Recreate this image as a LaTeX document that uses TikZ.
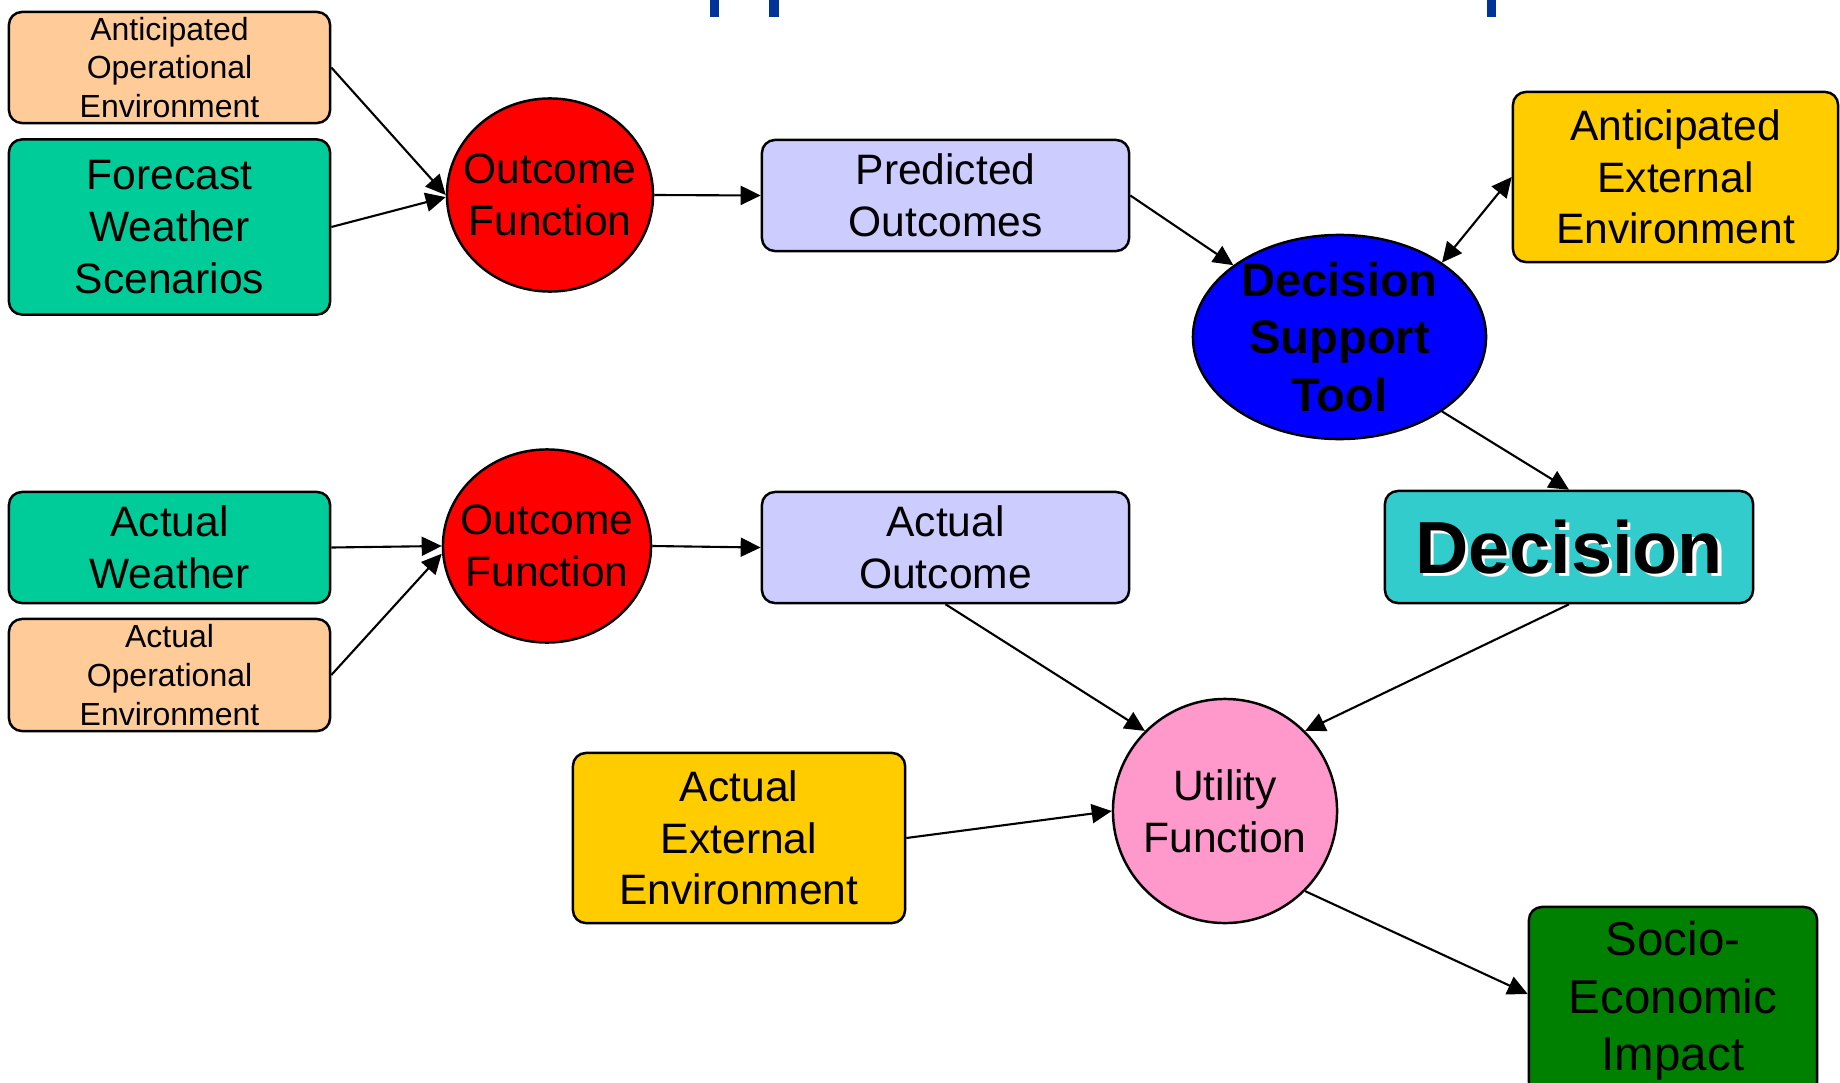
\documentclass[tikz,border=0pt]{standalone}
\usepackage{fontspec}
\setmainfont{Liberation Sans}
\usetikzlibrary{shapes.geometric,arrows.meta}
\definecolor{peach}{HTML}{FFCC99}
\definecolor{seagreen}{HTML}{00CC99}
\definecolor{lavender}{HTML}{CCCCFF}
\definecolor{gold}{HTML}{FFCC00}
\definecolor{decteal}{HTML}{33CCCC}
\definecolor{pinkish}{HTML}{FF99CC}
\definecolor{darkgreen}{HTML}{008000}
\definecolor{markblue}{HTML}{003399}
\begin{document}
\begin{tikzpicture}[x=0.01cm,y=-0.01cm,
  box/.style={draw=black, line width=0.7pt, rounded corners=0.13cm, align=center, inner sep=0pt},
  oval/.style={draw=black, line width=0.7pt, ellipse, inner sep=0pt},
  smalltxt/.style={font=\fontsize{9.1}{11}\selectfont},
  normtxt/.style={font=\fontsize{12.1}{14.7}\selectfont},
  bigtxt/.style={font=\fontsize{13.5}{16.4}\selectfont},
  conn/.style={line width=0.6pt, -{Triangle[length=0.2cm,width=0.19cm]}},
  dconn/.style={line width=0.6pt, {Triangle[length=0.2cm,width=0.19cm]}-{Triangle[length=0.2cm,width=0.19cm]}},
]
\useasboundingbox (0,0) rectangle (1840,1082);

% top marks
\fill[markblue] (710,0) rectangle (719,17);
\fill[markblue] (769,0) rectangle (779,17);
\fill[markblue] (1487,0) rectangle (1496,17);

% nodes
\node[box, smalltxt, fill=peach, minimum width=3.21cm, minimum height=1.11cm] (AOE) at (169.5,67.5) {Anticipated\\Operational\\Environment};
\node[box, normtxt, fill=seagreen, minimum width=3.21cm, minimum height=1.75cm] (FWS) at (169.5,227) {Forecast\\Weather\\Scenarios};
\node[oval, fill=red, minimum width=2.06cm, minimum height=1.93cm,
  label={[normtxt, align=center]center:{Outcome\\Function}}] (OF1) at (550,195) {};
\node[box, normtxt, fill=lavender, minimum width=3.67cm, minimum height=1.11cm] (PO) at (945.5,195.5) {Predicted\\Outcomes};
\node[oval, fill=blue, minimum width=2.93cm, minimum height=2.04cm,
  label={[font=\fontsize{13.4}{16.4}\selectfont\bfseries, align=center]center:{Decision\\Support\\Tool}}] (DST) at (1339.5,337) {};
\node[box, normtxt, fill=gold, minimum width=3.25cm, minimum height=1.70cm] (AEE) at (1675.5,177) {Anticipated\\External\\Environment};

\node[box, normtxt, fill=seagreen, minimum width=3.21cm, minimum height=1.11cm] (AW) at (169.5,547.5) {Actual\\Weather};
\node[box, smalltxt, fill=peach, minimum width=3.21cm, minimum height=1.12cm] (AcOE) at (169.5,675) {Actual\\Operational\\Environment};
\node[oval, fill=red, minimum width=2.08cm, minimum height=1.93cm,
  label={[normtxt, align=center]center:{Outcome\\Function}}] (OF2) at (547,546) {};
\node[box, normtxt, fill=lavender, minimum width=3.67cm, minimum height=1.11cm] (AO) at (945.5,547.5) {Actual\\Outcome};
\node[box, font=\fontsize{21}{24}\selectfont\bfseries, fill=decteal, minimum width=3.68cm, minimum height=1.12cm,
  path picture={\node[white, font=\fontsize{21}{24}\selectfont\bfseries] at ([shift={(3.5,3.5)}]path picture bounding box.center) {Decision};}] (Dec) at (1569,547) {Decision};
\node[oval, circle, fill=pinkish, minimum size=2.24cm,
  label={[normtxt, align=center]center:{Utility\\Function}}] (UF) at (1225,811) {};
\node[box, normtxt, fill=gold, minimum width=3.32cm, minimum height=1.70cm] (AcEE) at (739,838) {Actual\\External\\Environment};
\node[box, bigtxt, fill=darkgreen, minimum width=2.88cm, minimum height=1.88cm] (SEI) at (1673,1001) {Socio-\\Economic\\Impact};

% connectors
\draw[conn] (AOE.east) -- (OF1.west);
\draw[conn] (FWS.east) -- ([yshift=-0.6pt]OF1.west);
\draw[conn] (OF1.east) -- (PO.west);
\draw[conn] (PO.east) -- (DST);
\draw[dconn] (DST.36) -- (AEE.west);
\draw[conn] (DST.-36) -- (Dec.north);
\draw[conn] (AW.east) -- (OF2.west);
\draw[conn] (AcOE.east) -- ([yshift=-2.2pt]OF2.west);
\draw[conn] (OF2.east) -- (AO.west);
\draw[conn] (AO.south) -- (UF.135);
\draw[conn] (Dec.south) -- (UF.45);
\draw[conn] (AcEE.east) -- (UF.west);
\draw[conn] (UF.-45) -- ([yshift=2pt]SEI.west);
\end{tikzpicture}
\end{document}
